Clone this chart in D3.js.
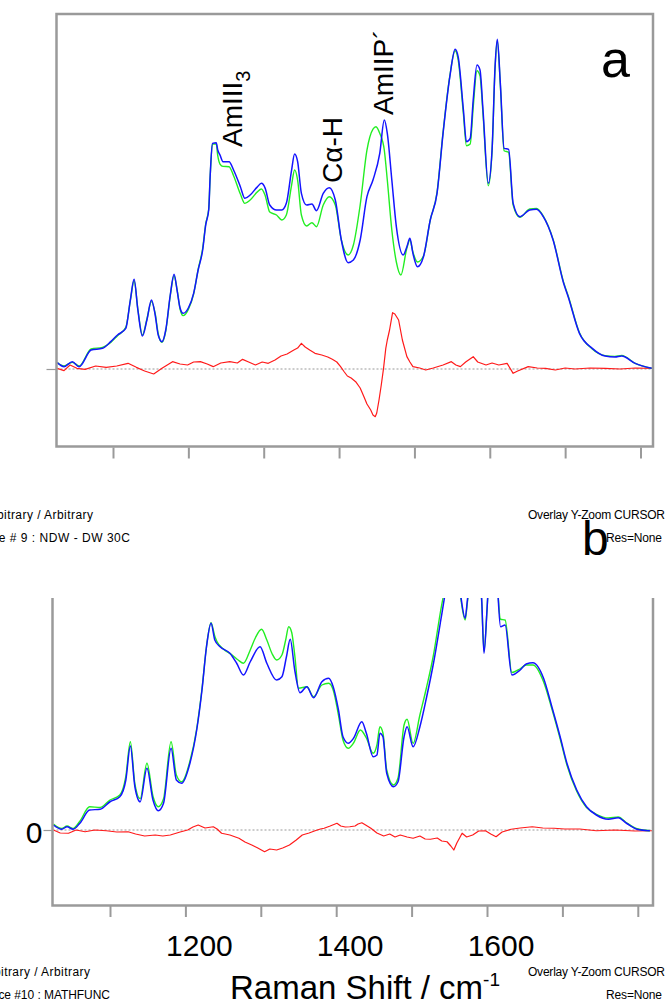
<!DOCTYPE html>
<html>
<head>
<meta charset="utf-8">
<script src="https://cdn.jsdelivr.net/npm/d3@7"></script>
<style>
  body { margin: 0; background: #fff; }
  text { font-family: "Liberation Sans", Arial, sans-serif; fill: #000; }
</style>
</head>
<body>
<div id="chart"></div>
<script>
// x ticks (Raman shift, cm-1) and the labelled ones
var shiftTicks = [1100, 1200, 1300, 1400, 1500, 1600, 1700, 1800];
var shiftLabels = [1200, 1400, 1600];

// panel a : [shift, intensity]  blue = sample, green = reference, red = difference
var aBlue = [[1026,1.9],[1035,0.7],[1046,2.2],[1055,0.7],[1071,5.7],[1086,6.2],[1097,8.2],[1106,10.2],[1117,12.2],[1123,20.7],[1128,26.9],[1133,17.7],[1139,9.9],[1145,14.7],[1151,20.7],[1156,16.2],[1160,10.2],[1165,8.2],[1170,11.7],[1176,22.2],[1181,28.4],[1185,23.7],[1189,18.3],[1193,16.7],[1200,18.3],[1207,22.7],[1213,29.7],[1219,35.7],[1223,43.2],[1227,47.7],[1229,58.2],[1232,67.7],[1237,67.9],[1239,65.7],[1242,64.2],[1246,62.2],[1254,62.2],[1260,59.7],[1269,54.7],[1275,51.2],[1282,52.2],[1291,54.5],[1297,55.7],[1302,54.2],[1308,49.2],[1317,47.7],[1324,47.7],[1330,49.7],[1337,59.7],[1341,64.5],[1345,62.2],[1350,52.7],[1357,49.2],[1364,49.5],[1370,47.5],[1379,52.7],[1387,54.4],[1395,50.7],[1403,38.7],[1412,31.9],[1419,32.7],[1428,38.7],[1437,51.7],[1445,56.7],[1454,64.7],[1460,74.7],[1464,70.7],[1470,56.7],[1476,42.7],[1485,34.2],[1490,36.7],[1494,39.2],[1498,34.7],[1504,30.7],[1512,33.7],[1521,44.7],[1530,52.7],[1538,70.7],[1547,87.7],[1554,95.9],[1558,93.7],[1565,77.7],[1569,68.2],[1574,69.2],[1578,80.7],[1583,91.2],[1587,89.7],[1591,77.7],[1598,55.7],[1603,65.7],[1607,90.7],[1610,98.9],[1614,85.7],[1619,66.2],[1625,65.9],[1631,49.7],[1640,45.7],[1653,47.7],[1662,47.9],[1671,45.7],[1684,38.7],[1698,25.7],[1704,21.7],[1719,10.7],[1736,6.2],[1753,3.9],[1766,3.6],[1775,3.9],[1793,1.7],[1815,0.2]];
var aGreen = [[1026,1.9],[1035,0.9],[1046,2.0],[1055,0.9],[1071,6.0],[1086,6.5],[1097,8.0],[1106,10.0],[1117,12.5],[1123,20.5],[1128,26.5],[1133,17.9],[1139,10.2],[1145,15.0],[1151,20.2],[1156,16.6],[1160,10.6],[1165,8.0],[1170,11.4],[1176,22.0],[1181,28.0],[1185,23.9],[1189,18.0],[1193,16.0],[1200,17.9],[1207,22.5],[1213,29.9],[1219,36.2],[1223,43.5],[1227,48.0],[1229,58.0],[1232,67.5],[1237,67.5],[1239,64.0],[1242,61.5],[1246,60.8],[1254,60.7],[1260,58.0],[1269,52.5],[1275,49.7],[1282,50.7],[1291,53.0],[1297,54.0],[1302,52.0],[1308,47.1],[1317,46.2],[1324,44.7],[1330,46.2],[1337,55.2],[1341,59.7],[1345,56.7],[1350,46.2],[1357,42.9],[1364,43.9],[1370,42.7],[1379,49.2],[1387,51.7],[1395,49.2],[1403,38.7],[1412,34.2],[1419,37.2],[1428,49.2],[1437,65.7],[1445,72.0],[1449,72.7],[1454,70.7],[1460,65.7],[1464,56.7],[1470,41.7],[1476,32.1],[1482,28.2],[1490,36.3],[1494,38.7],[1498,35.1],[1504,32.1],[1512,33.9],[1521,44.7],[1530,53.0],[1538,71.0],[1547,88.0],[1554,95.5],[1558,92.8],[1565,76.5],[1569,67.0],[1574,67.5],[1578,78.5],[1583,89.5],[1587,88.0],[1591,76.5],[1598,55.0],[1603,65.2],[1607,90.2],[1610,98.5],[1614,85.2],[1619,65.5],[1625,65.0],[1631,49.2],[1640,45.5],[1653,48.0],[1662,48.2],[1671,45.9],[1684,38.9],[1698,26.0],[1704,22.0],[1719,10.9],[1736,6.0],[1753,4.0],[1766,3.8],[1775,4.1],[1793,1.7],[1815,0.2]];
var aRed = [[1026,0.2],[1035,-0.5],[1043,1.2],[1052,0.2],[1063,-0.1],[1077,0.9],[1091,0.5],[1105,0.9],[1120,1.7],[1131,0.5],[1142,-0.6],[1154,-1.5],[1165,0.2],[1179,2.2],[1189,1.5],[1199,1.2],[1207,2.1],[1216,2.2],[1225,1.5],[1233,0.7],[1243,1.8],[1255,2.2],[1265,1.8],[1272,2.9],[1280,2.1],[1289,1.2],[1298,2.1],[1306,1.7],[1315,2.7],[1323,3.9],[1331,4.5],[1340,5.7],[1345,6.3],[1350,7.7],[1355,6.6],[1361,5.7],[1368,4.7],[1377,4.2],[1385,3.6],[1391,2.9],[1397,2.1],[1402,0.7],[1407,-0.9],[1411,-2.1],[1416,-2.7],[1422,-3.8],[1428,-5.7],[1433,-8.3],[1437,-10.5],[1442,-12.3],[1445,-13.8],[1448,-14.3],[1450,-13.2],[1453,-9.3],[1456,-4.8],[1459,0.2],[1462,6.2],[1464,8.7],[1467,11.7],[1471,16.9],[1474,16.5],[1479,14.7],[1484,8.7],[1490,3.7],[1494,2.1],[1498,0.7],[1507,0.3],[1515,-0.3],[1525,0.3],[1538,1.2],[1549,2.2],[1555,1.2],[1561,0.7],[1568,2.1],[1578,3.7],[1584,2.1],[1595,1.2],[1603,1.8],[1612,1.2],[1623,1.7],[1631,-1.3],[1637,-0.6],[1651,0.7],[1663,0.3],[1674,0.2],[1687,-0.3],[1700,0.3],[1713,0],[1733,0.3],[1753,0.2],[1773,0],[1793,0.3],[1815,0.2]];

// panel b
var bBlue = [[1025,2.0],[1036,0.3],[1043,1.3],[1051,0.3],[1060,2.7],[1073,8.0],[1087,8.3],[1100,11.3],[1113,13.3],[1121,20.0],[1127,33.6],[1133,17.3],[1140,11.3],[1149,24.7],[1157,12.0],[1164,7.7],[1171,10.7],[1181,32.7],[1188,20.0],[1195,18.7],[1206,26.7],[1215,40.0],[1222,56.0],[1228,73.3],[1234,82.7],[1239,76.0],[1246,73.3],[1259,70.7],[1268,66.7],[1277,62.0],[1286,67.3],[1299,73.3],[1308,66.7],[1321,60.0],[1328,61.3],[1334,69.3],[1339,76.3],[1345,64.0],[1352,54.9],[1361,57.3],[1370,52.9],[1381,59.3],[1390,60.7],[1396,57.3],[1403,48.0],[1409,37.3],[1416,34.7],[1423,36.7],[1434,43.3],[1440,38.7],[1449,29.3],[1454,30.0],[1458,38.7],[1462,37.3],[1467,22.7],[1476,17.3],[1482,19.3],[1490,37.3],[1494,41.3],[1502,33.3],[1511,41.3],[1520,53.3],[1529,66.7],[1538,82.7],[1547,100],[1554,118],[1559,114],[1566,92],[1571,84.7],[1574,92],[1580,108],[1584,112],[1589,106],[1593,92],[1596,70.7],[1600,88],[1604,110],[1608,125],[1612,115],[1615,92],[1618,81.3],[1624,82.0],[1633,62.0],[1644,64.0],[1652,66.4],[1661,66.9],[1675,60.7],[1686,49.3],[1697,37.3],[1706,26.7],[1719,16.0],[1732,9.3],[1745,6.0],[1761,4.3],[1774,4.9],[1785,2.7],[1799,0.3],[1816,-0.3]];
var bGreen = [[1025,2.4],[1036,0.6],[1043,1.6],[1051,0.6],[1060,3.5],[1073,9.3],[1087,9.0],[1100,12.0],[1113,14.0],[1121,21.5],[1127,35.3],[1133,18.5],[1140,12.5],[1149,26.7],[1157,13.5],[1164,9.3],[1171,12.5],[1181,35.3],[1188,22.0],[1195,19.3],[1206,27.5],[1215,40.5],[1222,56.5],[1228,73.5],[1234,82.9],[1239,77.5],[1242,75.3],[1250,72.5],[1262,70.0],[1270,68.0],[1277,66.7],[1286,72.0],[1293,77.0],[1301,80.3],[1308,76.0],[1315,70.5],[1321,68.0],[1328,70.0],[1333,76.0],[1337,81.3],[1341,79.0],[1345,70.0],[1350,56.7],[1361,57.3],[1370,53.3],[1381,58.0],[1390,58.7],[1396,56.0],[1403,46.0],[1409,36.0],[1416,32.7],[1423,34.8],[1432,40.0],[1440,36.8],[1449,30.7],[1454,34.0],[1458,41.3],[1462,38.8],[1467,24.0],[1476,18.0],[1482,20.8],[1490,42.0],[1494,44.3],[1502,34.7],[1511,46.0],[1520,57.3],[1529,70.0],[1538,86.8],[1547,102],[1554,118],[1559,113],[1566,91],[1571,84.0],[1574,91],[1580,107],[1584,111],[1589,105],[1593,91],[1596,71.5],[1600,88],[1604,110],[1608,124],[1612,114],[1615,93],[1618,84.3],[1624,84.0],[1633,63.0],[1644,64.5],[1652,66.0],[1661,66.0],[1675,59.3],[1686,48.5],[1697,36.5],[1706,26.0],[1719,15.5],[1732,9.0],[1745,6.3],[1761,4.8],[1774,5.2],[1785,2.9],[1799,0.5],[1816,-0.3]];
var bRed = [[1025,0],[1034,-1.2],[1045,-1.3],[1055,0],[1067,-0.7],[1080,0],[1095,-0.3],[1109,-0.8],[1124,-0.7],[1134,-1.6],[1146,-2.4],[1160,-2],[1170,-2.4],[1180,-2],[1193,-0.8],[1203,0],[1210,1.2],[1217,2],[1226,0.8],[1237,1.3],[1242,0.4],[1248,-1.3],[1259,-2],[1271,-3.3],[1279,-4.8],[1288,-6],[1296,-7.2],[1305,-8.7],[1312,-7.6],[1321,-8],[1329,-7.2],[1338,-6],[1347,-4],[1355,-2],[1364,-1.2],[1372,-0.3],[1379,0.4],[1384,0.7],[1392,1.6],[1401,2.7],[1406,1.6],[1412,1.2],[1418,1.3],[1425,1.6],[1429,2.4],[1434,2.9],[1439,2],[1446,0.7],[1454,-1.2],[1463,-2.4],[1471,-1.6],[1478,-2.8],[1485,-2],[1494,-2.8],[1502,-3.3],[1511,-2.4],[1518,-3.6],[1525,-3.7],[1534,-3.2],[1540,-4.4],[1547,-4.7],[1552,-6.4],[1556,-8],[1560,-5.2],[1567,-1.3],[1573,-2.8],[1581,-2],[1589,-0.4],[1598,-0.3],[1605,-1.6],[1612,-2.7],[1620,-0.8],[1632,0.3],[1644,0.8],[1660,1.3],[1674,0.8],[1689,0.7],[1703,0.4],[1723,0.4],[1745,-0.3],[1770,0],[1796,-0.4],[1819,-0.3]];

var W = 668, H = 1005;
var svg = d3.select("#chart").append("svg")
    .attr("width", W)
    .attr("height", H);

var frameColor = "#9a9a9a";

// scales (one per panel, the two panels are slightly offset in the original)
var xA = d3.scaleLinear().domain([1100, 1800]).range([113, 640.5]);
var yA = d3.scaleLinear().domain([0, 100]).range([369, 35.7]);
var xB = d3.scaleLinear().domain([1100, 1800]).range([110, 637.8]);
var yB = d3.scaleLinear().domain([0, 100]).range([830, 580]);

var defs = svg.append("defs");
defs.append("clipPath").attr("id", "clipA").append("rect")
    .attr("x", 56.5).attr("y", 14).attr("width", 596.5).attr("height", 432);
defs.append("clipPath").attr("id", "clipB").append("rect")
    .attr("x", 52.5).attr("y", 598).attr("width", 600.5).attr("height", 307);

function drawPanel(x, y, clip, series, zeroLeft, zeroRight) {
  var g = svg.append("g").attr("clip-path", "url(#" + clip + ")");

  // dashed zero line
  g.append("line")
    .attr("x1", zeroLeft).attr("x2", zeroRight)
    .attr("y1", y(0)).attr("y2", y(0))
    .attr("stroke", "#999")
    .attr("stroke-width", 1)
    .attr("stroke-dasharray", "2,2");

  g.selectAll("path.spec")
    .data(series)
    .enter().append("path")
      .attr("class", "spec")
      .attr("d", function(d) {
        return d3.line()
          .x(function(p) { return x(p[0]); })
          .y(function(p) { return y(p[1]); })
          .curve(d.smooth ? d3.curveMonotoneX : d3.curveLinear)(d.values);
      })
      .attr("fill", "none")
      .attr("stroke", function(d) { return d.color; })
      .attr("stroke-width", function(d) { return d.width; })
      .attr("stroke-linejoin", "round");
  return g;
}

drawPanel(xA, yA, "clipA", [
  {values: aRed, color: "#ff1a1a", width: 1.2, smooth: false},
  {values: aGreen, color: "#22ee22", width: 1.4, smooth: true},
  {values: aBlue, color: "#1414ff", width: 1.5, smooth: true}
], 56.5, 653);

drawPanel(xB, yB, "clipB", [
  {values: bRed, color: "#ff1a1a", width: 1.2, smooth: false},
  {values: bGreen, color: "#22ee22", width: 1.4, smooth: true},
  {values: bBlue, color: "#1414ff", width: 1.5, smooth: true}
], 52.5, 653);

// frames
svg.append("rect")
  .attr("x", 56.5).attr("y", 14).attr("width", 596.5).attr("height", 432.5)
  .attr("fill", "none").attr("stroke", frameColor).attr("stroke-width", 2.5);

svg.append("path")
  .attr("d", "M52.5,598V905.5H653V598")
  .attr("fill", "none").attr("stroke", frameColor).attr("stroke-width", 2.5);

// bottom tick marks
function tickAxis(x, ty) {
  var ax = svg.append("g")
    .attr("transform", "translate(0," + ty + ")")
    .call(d3.axisBottom(x).tickValues(shiftTicks).tickSize(11).tickFormat(""));
  ax.select(".domain").remove();
  ax.selectAll(".tick line").attr("stroke", frameColor).attr("stroke-width", 2);
}
tickAxis(xA, 447.5);
tickAxis(xB, 906);

// zero ticks on the left
var zA = svg.append("g").attr("transform", "translate(56.5,0)")
  .call(d3.axisLeft(yA).tickValues([0]).tickSize(10).tickFormat(""));
zA.select(".domain").remove();
zA.selectAll(".tick line").attr("stroke", "#999").attr("stroke-width", 1.2);

var zB = svg.append("g").attr("transform", "translate(52.5,0)")
  .call(d3.axisLeft(yB).tickValues([0]).tickSize(9).tickPadding(1).tickFormat(d3.format("d")));
zB.select(".domain").remove();
zB.selectAll(".tick line").attr("stroke", "#999").attr("stroke-width", 1.2);
zB.selectAll(".tick text")
  .attr("font-size", 30)
  .attr("dy", "0.4em")
  .style("font-family", "'Liberation Sans', Arial, sans-serif")
  .attr("fill", "#000");

// x tick labels (sit a little right of their ticks in the original)
svg.selectAll("text.xlab")
  .data(shiftLabels)
  .enter().append("text")
    .attr("class", "xlab")
    .attr("x", function(d) { return xB(d) + 14; })
    .attr("y", 956)
    .attr("text-anchor", "middle")
    .attr("font-size", 30)
    .text(function(d) { return d; });

// axis title
var title = svg.append("text")
  .attr("x", 230).attr("y", 999)
  .attr("font-size", 33);
title.append("tspan").text("Raman Shift / cm");
title.append("tspan").attr("font-size", 19).attr("dy", -13).text("-1");

// band labels (rotated)
function bandLabel(x, y, main, sub) {
  var t = svg.append("text")
    .attr("transform", "translate(" + x + "," + y + ") rotate(-90)")
    .attr("font-size", 28);
  t.append("tspan").text(main);
  if (sub) t.append("tspan").attr("font-size", 20).attr("dy", 8).text(sub);
}
bandLabel(242, 147, "AmIII", "3");
bandLabel(342, 183, "C\u03b1-H");
bandLabel(393, 115, "AmIIP\u00b4");

// panel letters
svg.append("text").attr("x", 601).attr("y", 77).attr("font-size", 52).text("a");
svg.append("text").attr("x", 582).attr("y", 555).attr("font-size", 48).text("b");

// software footer texts (cut off at the page edge)
var footer = [
  {t: "Arbitrary / Arbitrary", x: -16, y: 519, len: 109},
  {t: "Trace # 9 : NDW - DW 30C", x: -27, y: 542, len: 157},
  {t: "Overlay Y-Zoom CURSOR", x: 528, y: 519, len: 137},
  {t: "Res=None", x: 606, y: 542, len: 56},
  {t: "Arbitrary / Arbitrary", x: -19, y: 976, len: 109},
  {t: "Trace #10 : MATHFUNC", x: -19, y: 999, len: 129},
  {t: "Overlay Y-Zoom CURSOR", x: 528, y: 976, len: 137},
  {t: "Res=None", x: 606, y: 999, len: 56}
];
svg.selectAll("text.foot")
  .data(footer)
  .enter().append("text")
    .attr("class", "foot")
    .attr("x", function(d) { return d.x; })
    .attr("y", function(d) { return d.y; })
    .attr("font-size", 12)
    .attr("textLength", function(d) { return d.len; })
    .attr("lengthAdjust", "spacing")
    .text(function(d) { return d.t; });
</script>
</body>
</html>
